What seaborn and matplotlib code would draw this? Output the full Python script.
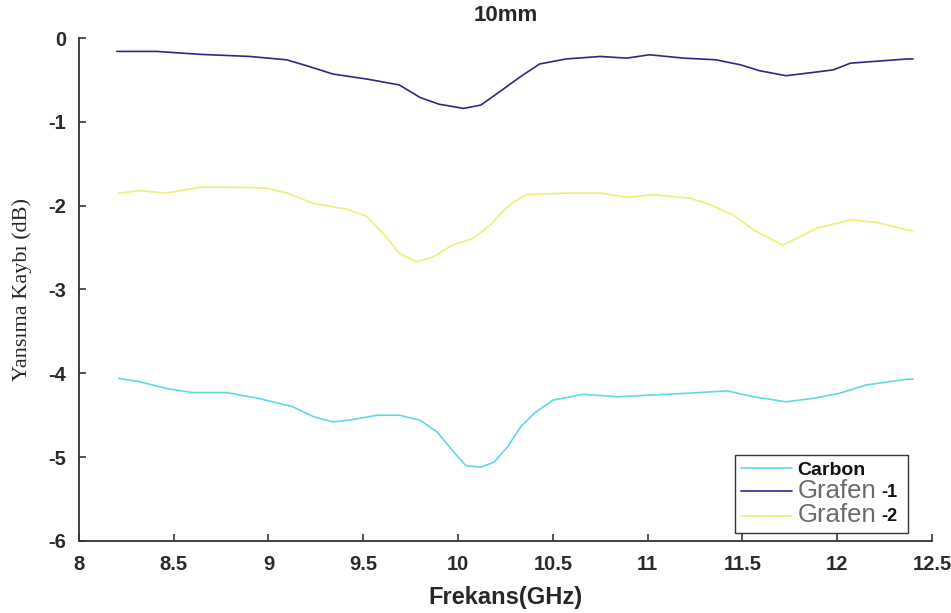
import matplotlib
matplotlib.use("Agg")
import matplotlib.pyplot as plt
from matplotlib.patches import Rectangle
import seaborn as sns
import pandas as pd

# ---- data ----
carbon_x = [8.21, 8.32, 8.46, 8.60, 8.78, 8.95, 9.13, 9.24, 9.34, 9.45, 9.57, 9.69, 9.80,
            9.89, 9.97, 10.04, 10.12, 10.19, 10.26, 10.33, 10.40, 10.50, 10.66, 10.84,
            11.01, 11.19, 11.42, 11.56, 11.73, 11.87, 12.01, 12.15, 12.37, 12.40]
carbon_y = [-4.06, -4.10, -4.18, -4.23, -4.23, -4.30, -4.40, -4.52, -4.58, -4.55, -4.50, -4.50, -4.56,
            -4.70, -4.92, -5.10, -5.12, -5.06, -4.88, -4.64, -4.48, -4.32, -4.25, -4.28,
            -4.26, -4.24, -4.21, -4.28, -4.34, -4.30, -4.24, -4.14, -4.07, -4.07]

grafen1_x = [8.20, 8.41, 8.64, 8.90, 9.095, 9.20, 9.34, 9.52, 9.69, 9.80, 9.90, 10.03, 10.12,
             10.22, 10.33, 10.43, 10.57, 10.75, 10.89, 11.01, 11.19, 11.36, 11.49, 11.59,
             11.73, 11.84, 11.98, 12.07, 12.19, 12.37, 12.40]
grafen1_y = [-0.16, -0.16, -0.195, -0.22, -0.26, -0.33, -0.43, -0.49, -0.56, -0.71, -0.79, -0.84, -0.80,
             -0.64, -0.46, -0.31, -0.25, -0.22, -0.24, -0.20, -0.24, -0.26, -0.32, -0.39,
             -0.45, -0.42, -0.38, -0.30, -0.28, -0.25, -0.25]

grafen2_x = [8.21, 8.32, 8.46, 8.64, 8.81, 8.99, 9.10, 9.23, 9.41, 9.52, 9.62, 9.69, 9.78,
             9.87, 9.97, 10.08, 10.17, 10.24, 10.29, 10.36, 10.57, 10.75, 10.89, 11.03,
             11.22, 11.31, 11.45, 11.56, 11.66, 11.71, 11.77, 11.89, 12.07, 12.21, 12.37, 12.40]
grafen2_y = [-1.85, -1.82, -1.85, -1.78, -1.78, -1.79, -1.85, -1.97, -2.04, -2.13, -2.37, -2.57, -2.67,
             -2.61, -2.47, -2.39, -2.23, -2.06, -1.96, -1.87, -1.85, -1.85, -1.90, -1.87,
             -1.91, -1.97, -2.11, -2.29, -2.41, -2.47, -2.41, -2.27, -2.17, -2.20, -2.29, -2.30]

series_names = ["Carbon", "Grafen -1", "Grafen -2"]
legend_main = ["Carbon", "Grafen", "Grafen"]
legend_suffix = ["", "-1", "-2"]
series_colors = ["#5fd9e3", "#2a2a86", "#efef7a"]

title = "10mm"
xlabel = "Frekans(GHz)"
ylabel = "Yansıma Kaybı (dB)"
xticks = [8, 8.5, 9, 9.5, 10, 10.5, 11, 11.5, 12, 12.5]
xticklabels = ["8", "8.5", "9", "9.5", "10", "10.5", "11", "11.5", "12", "12.5"]
yticks = [0, -1, -2, -3, -4, -5, -6]

df = pd.concat([
    pd.DataFrame({"f": carbon_x, "v": carbon_y, "s": series_names[0]}),
    pd.DataFrame({"f": grafen1_x, "v": grafen1_y, "s": series_names[1]}),
    pd.DataFrame({"f": grafen2_x, "v": grafen2_y, "s": series_names[2]}),
], ignore_index=True)

sns.set_style("ticks")
plt.rcParams["font.family"] = ["Liberation Sans", "DejaVu Sans"]
plt.rcParams["axes.unicode_minus"] = False

fig = plt.figure(figsize=(9.51, 6.13), dpi=100)
ax = fig.add_axes([0.083, 0.1175, 0.897, 0.8205])

sns.lineplot(data=df, x="f", y="v", hue="s", hue_order=series_names,
             palette=dict(zip(series_names, series_colors)), linewidth=1.2,
             estimator=None, sort=True, ax=ax)

ax.set_xlim(8, 12.5)
ax.set_ylim(-6, 0)
ax.set_xticks(xticks)
ax.set_xticklabels(xticklabels)
ax.set_yticks(yticks)
ax.tick_params(direction="in", length=5, width=1.2, colors="#333333", labelsize=14.5,
               labelcolor="#2a2a2a")
ax.tick_params(axis="y", pad=9)
ax.tick_params(axis="x", pad=10)
for lab in ax.get_xticklabels() + ax.get_yticklabels():
    lab.set_fontweight("bold")
for side in ["top", "right"]:
    ax.spines[side].set_visible(False)
for side in ["left", "bottom"]:
    ax.spines[side].set_color("#333333")
    ax.spines[side].set_linewidth(1.3)

ax.set_title(title, fontsize=16, fontweight="bold", pad=12)
ax.set_xlabel(xlabel, fontsize=17, fontweight="bold", labelpad=9)
ax.set_ylabel(ylabel, fontsize=16, family=["Liberation Serif", "DejaVu Serif"], labelpad=12)

handles, _ = ax.get_legend_handles_labels()
leg = ax.legend(handles, legend_main, loc="lower right", bbox_to_anchor=(0.953, -0.004),
                frameon=False, handlelength=2.6, handletextpad=0.3,
                borderpad=0.3, labelspacing=0.02, fontsize=14)
texts = leg.get_texts()
texts[0].set_fontweight("bold")
texts[0].set_color("#111111")
for t in texts[1:]:
    t.set_color("#6a6a6a")
    t.set_fontsize(18.5)
for line in leg.get_lines():
    line.set_linewidth(1.2)

# bold suffixes "-1" / "-2" after the grey "Grafen", and a frame around everything
fig.canvas.draw()
renderer = fig.canvas.get_renderer()
lbb = leg.get_window_extent(renderer)
x_right = lbb.x1
for t, suf in zip(texts[1:], legend_suffix[1:]):
    bb = t.get_window_extent(renderer)
    st = fig.text(bb.x1 + 5, (bb.y0 + bb.y1) / 2 - 1, suf, transform=None, fontsize=13,
                  fontweight="bold", color="#111111", va="center", ha="left")
    sbb = st.get_window_extent(renderer)
    x_right = max(x_right, sbb.x1 + 11)
inv = fig.transFigure.inverted()
(fx0, fy0) = inv.transform((lbb.x0, lbb.y0))
(fx1, fy1) = inv.transform((x_right, lbb.y1))
frame = Rectangle((fx0, fy0), fx1 - fx0, fy1 - fy0, transform=fig.transFigure,
                  facecolor="white", edgecolor="#333333", linewidth=1.0, zorder=4,
                  clip_on=False)
ax.add_patch(frame)

fig.savefig("out.png", dpi=100)
